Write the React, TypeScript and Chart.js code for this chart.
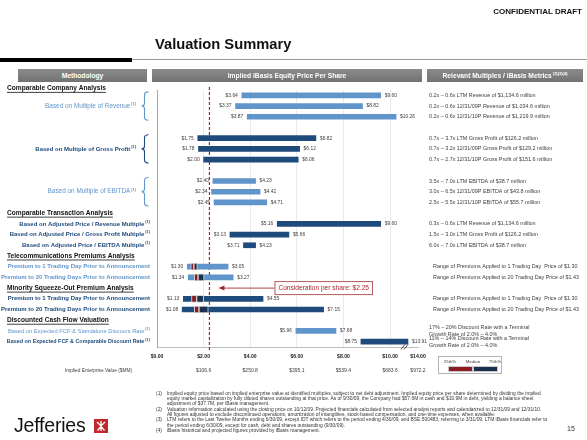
import { useEffect, useRef } from "react";
import { Chart, registerables } from "chart.js";

Chart.register(...registerables);

// ---------------- data ----------------
const rowKeys = [
  "Revenue LTM", "Revenue 12/31/09P", "Revenue 12/31/10P", "gap-a",
  "Gross Profit LTM", "Gross Profit 12/31/09P", "Gross Profit 12/31/10P", "gap-b",
  "EBITDA LTM", "EBITDA 12/31/09P", "EBITDA 12/31/10P", "Comparable Transaction Analysis",
  "Adj. Price / Revenue", "Adj. Price / Gross Profit", "Adj. Price / EBITDA", "Telecommunications Premiums Analysis",
  "Telecom 1 Day", "Telecom 20 Days", "Minority Squeeze-Out Premium Analysis",
  "Minority 1 Day", "Minority 20 Days", "Discounted Cash Flow Valuation",
  "DCF Standalone", "DCF Comparable",
];

const lowPrices: (number | null)[] = [
  3.64, 3.37, 3.87, null,
  1.75, 1.78, 2.0, null,
  2.4, 2.34, 2.45, null,
  5.16, 3.13, 3.71, null,
  1.3, 1.34, null,
  1.13, 1.08, null,
  5.96, 8.75,
];

const highPrices: (number | null)[] = [
  9.6, 8.82, 10.26, null,
  6.82, 6.12, 6.06, null,
  4.23, 4.42, 4.71, null,
  9.6, 5.66, 4.23, null,
  3.05, 3.27, null,
  4.55, 7.15, null,
  7.68, 13.91,
];

const barShades: ("light" | "dark" | null)[] = [
  "light", "light", "light", null,
  "dark", "dark", "dark", null,
  "light", "light", "light", null,
  "dark", "dark", "dark", null,
  "light", "light", null,
  "dark", "dark", null,
  "light", "dark",
];

const percentile25: (number | null)[] = [
  null, null, null, null, null, null, null, null, null, null, null, null,
  null, null, null, null, 1.45, 1.6, null, 1.48, 1.6, null, null, null,
];
const percentileMedian: (number | null)[] = [
  null, null, null, null, null, null, null, null, null, null, null, null,
  null, null, null, null, 1.58, 1.76, null, 1.7, 1.8, null, null, null,
];
const percentile75: (number | null)[] = [
  null, null, null, null, null, null, null, null, null, null, null, null,
  null, null, null, null, 1.73, 2.02, null, 2.0, 2.2, null, null, null,
];

const metricsText: (string | string[] | null)[] = [
  "0.2x – 0.6x LTM Revenue of $1,134.6 million",
  "0.2x – 0.6x 12/31/09P Revenue of $1,034.6 million",
  "0.2x – 0.6x 12/31/10P Revenue of $1,219.9 million",
  null,
  "0.7x – 3.7x LTM Gross Profit of $126.2 million",
  "0.7x – 3.2x 12/31/09P Gross Profit of $129.2 million",
  "0.7x – 2.7x 12/31/10P Gross Profit of $151.6 million",
  null,
  "3.5x – 7.0x LTM EBITDA of $38.7 million",
  "3.0x – 6.5x 12/31/09P EBITDA of $43.8 million",
  "2.5x – 5.5x 12/31/10P EBITDA of $55.7 million",
  null,
  "0.3x – 0.6x LTM Revenue of $1,134.6 million",
  "1.5x – 3.0x LTM Gross Profit of $126.2 million",
  "6.0x – 7.0x LTM EBITDA of $38.7 million",
  null,
  "Range of Premiums Applied to 1 Trading Day  Price of $1.30",
  "Range of Premiums Applied to 20 Trading Day Price of $1.43",
  null,
  "Range of Premiums Applied to 1 Trading Day  Price of $1.30",
  "Range of Premiums Applied to 20 Trading Day Price of $1.43",
  null,
  ["17% – 20% Discount Rate with a Terminal", "Growth Rate of 2.0% – 4.0%"],
  ["11% – 14% Discount Rate with a Terminal", "Growth Rate of 2.0% – 4.0%"],
];

const sectionHeaders: [number, string][] = [
  [-0.65, "Comparable Company Analysis"],
  [11, "Comparable Transaction Analysis"],
  [15, "Telecommunications Premiums Analysis"],
  [18, "Minority Squeeze-Out Premium Analysis"],
  [21, "Discounted Cash Flow Valuation"],
];

type MethodLabel = {
  slot: number;
  text: string;
  note: string;
  shade: "light" | "dark";
  bold: boolean;
  size: number;
  group?: [number, number];
};

const methodLabels: MethodLabel[] = [
  { slot: 1, text: "Based on Multiple of Revenue", note: "(1)", shade: "light", bold: false, size: 6.4, group: [0, 2] },
  { slot: 5, text: "Based on Multiple of Gross Profit", note: "(1)", shade: "dark", bold: true, size: 6.0, group: [4, 6] },
  { slot: 9, text: "Based on Multiple of EBITDA", note: "(1)", shade: "light", bold: false, size: 6.4, group: [8, 10] },
  { slot: 12, text: "Based on Adjusted Price / Revenue Multiple", note: "(1)", shade: "dark", bold: true, size: 6.0 },
  { slot: 13, text: "Based on Adjusted Price / Gross Profit Multiple", note: "(1)", shade: "dark", bold: true, size: 6.0 },
  { slot: 14, text: "Based on Adjusted Price / EBITDA Multiple", note: "(1)", shade: "dark", bold: true, size: 6.0 },
  { slot: 16, text: "Premium to 1 Trading Day Prior to Announcement", note: "", shade: "light", bold: true, size: 6.0 },
  { slot: 17, text: "Premium to 20 Trading Days Prior to Announcement", note: "", shade: "light", bold: true, size: 6.0 },
  { slot: 19, text: "Premium to 1 Trading Day Prior to Announcement", note: "", shade: "dark", bold: true, size: 6.0 },
  { slot: 20, text: "Premium to 20 Trading Days Prior to Announcement", note: "", shade: "dark", bold: true, size: 6.0 },
  { slot: 22, text: "Based on Expected FCF & Standalone Discount Rate", note: "(1)", shade: "light", bold: false, size: 5.75 },
  { slot: 23, text: "Based on Expected FCF & Comparable Discount Rate", note: "(1)", shade: "dark", bold: true, size: 5.4 },
];

const xTickValues = [0, 2, 4, 6, 8, 10, 14];
const xTickLabels = ["$0.00", "$2.00", "$4.00", "$6.00", "$8.00", "$10.00", "$14.00"];
const enterpriseValues = ["", "$106.6", "$250.8", "$395.1", "$539.4", "$683.6", "$972.2"];

const CONSIDERATION_PRICE = 2.25;

const footnotes: [string, string[]][] = [
  ["(1)", [
    "Implied equity price based on implied enterprise value at identified multiples, subject to net debt adjustment.  Implied equity price per share determined by dividing the implied",
    "equity market capitalization by fully diluted shares outstanding at that price.  As of 9/30/09, the Company had $57.6M in cash and $19.9M in debt, yielding a balance sheet",
    "adjustment of $37.7M, per iBasis management.",
  ]],
  ["(2)", [
    "Valuation information calculated using the closing price on 10/12/09.  Projected financials calculated from selected analyst reports and calendarized to 12/31/09 and 12/31/10.",
    "All figures adjusted to exclude discontinued operations, amortization of intangibles, stock-based compensation, and one-time expenses, when available.",
  ]],
  ["(3)", [
    "LTM refers to the Last Twelve Months ending 6/30/09, except IDT which refers to the period ending 4/30/09, and BSE:500483, referring to 3/31/09.  LTM iBasis financials refer to",
    "the period ending 6/30/09, except for cash, debt and shares outstanding (9/30/09).",
  ]],
  ["(4)", ["iBasis historical and projected figures provided by iBasis management."]],
];

// ---------------- styling ----------------
const FONT = '"Liberation Sans", Arial, Helvetica, sans-serif';
const LIGHT_BLUE = "#6095cc";
const DARK_BLUE = "#1f4a7c";
const Q_RED = "#8b1d22";
const Q_NAVY = "#1a304c";
const MAROON = "#a3282d";
const TEXT_GRAY = "#3c3c3c";

// broken axis: values above the break are compressed; long bars are cut with break marks
const AXIS_BREAK = 10.5;
const compress = (v: number) => (v <= AXIS_BREAK ? v : AXIS_BREAK + (v - AXIS_BREAK) * 0.2);
const BAR_CUT = 10.77;

const shadeColor = (s: string | null) => (s === "dark" ? DARK_BLUE : LIGHT_BLUE);

function drawText(
  ctx: CanvasRenderingContext2D, s: string, x: number, y: number, font: string,
  color: string, align: CanvasTextAlign = "left",
) {
  ctx.font = font;
  ctx.fillStyle = color;
  ctx.textAlign = align;
  ctx.textBaseline = "middle";
  ctx.fillText(s, x, y);
}

const decorPlugin = {
  id: "valuationDecor",
  beforeDatasetsDraw(chart: any) {
    const { ctx, chartArea, scales } = chart;
    const px = scales.x.getPixelForValue(CONSIDERATION_PRICE);
    ctx.save();
    ctx.strokeStyle = MAROON;
    ctx.lineWidth = 1.2;
    ctx.setLineDash([3, 2]);
    ctx.beginPath();
    ctx.moveTo(px, chartArea.top - 3);
    ctx.lineTo(px, chartArea.bottom + 3);
    ctx.stroke();
    ctx.restore();
  },
  afterDatasetsDraw(chart: any) {
    const { ctx, chartArea, scales } = chart;
    const x = scales.x;
    const y = scales.y;
    ctx.save();

    // value labels
    const valFont = `4.9px ${FONT}`;
    rowKeys.forEach((_, i) => {
      const lo = lowPrices[i];
      const hi = highPrices[i];
      if (lo == null || hi == null) return;
      const yy = y.getPixelForValue(i);
      const x0 = x.getPixelForValue(lo);
      const endVal = Math.min(compress(hi), BAR_CUT);
      const x1 = x.getPixelForValue(endVal);
      drawText(ctx, "$" + lo.toFixed(2), x0 - 4, yy, valFont, TEXT_GRAY, "right");
      drawText(ctx, "$" + hi.toFixed(2), x1 + 4, yy, valFont, TEXT_GRAY, "left");
      if (compress(hi) > BAR_CUT) {
        ctx.strokeStyle = "#333";
        ctx.lineWidth = 0.9;
        ctx.setLineDash([]);
        for (const dx of [-5, -2]) {
          ctx.beginPath();
          ctx.moveTo(x1 + dx - 2, chartArea.bottom + 2.5);
          ctx.lineTo(x1 + dx + 2, chartArea.bottom - 2.5);
          ctx.stroke();
        }
      }
    });

    // section headers (left)
    const hdrFont = `bold 6.6px ${FONT}`;
    sectionHeaders.forEach(([slot, text]) => {
      const yy = y.getPixelForValue(slot);
      drawText(ctx, text, 7, yy, hdrFont, "#111");
      ctx.font = hdrFont;
      const w = ctx.measureText(text).width;
      ctx.strokeStyle = "#111";
      ctx.lineWidth = 0.8;
      ctx.setLineDash([]);
      ctx.beginPath();
      ctx.moveTo(7, yy + 4);
      ctx.lineTo(7 + w, yy + 4);
      ctx.stroke();
    });

    // methodology labels
    methodLabels.forEach((m) => {
      const color = shadeColor(m.shade);
      const yy = y.getPixelForValue(m.slot);
      const font = `${m.bold ? "bold " : ""}${m.size}px ${FONT}`;
      const noteFont = `bold 3.8px ${FONT}`;
      const rightX = m.group ? 136 : 150;
      ctx.font = noteFont;
      const nw = m.note ? ctx.measureText(m.note).width + 1 : 0;
      drawText(ctx, m.text, rightX - nw, yy, font, color, "right");
      if (m.note) drawText(ctx, m.note, rightX - nw + 1, yy - 2.2, noteFont, color, "left");
      if (m.group) {
        const yt = y.getPixelForValue(m.group[0]) - 3.5;
        const yb = y.getPixelForValue(m.group[1]) + 3.5;
        const xl = 141.5;
        const xm = 144.5;
        const xr = 148.5;
        ctx.strokeStyle = color;
        ctx.lineWidth = 1.1;
        ctx.setLineDash([]);
        ctx.beginPath();
        ctx.moveTo(xr, yt);
        ctx.quadraticCurveTo(xm, yt, xm, yt + 3);
        ctx.lineTo(xm, yy - 3);
        ctx.quadraticCurveTo(xm, yy, xl, yy);
        ctx.quadraticCurveTo(xm, yy, xm, yy + 3);
        ctx.lineTo(xm, yb - 3);
        ctx.quadraticCurveTo(xm, yb, xr, yb);
        ctx.stroke();
      }
    });

    // metrics text (right)
    const mFont = `5.4px ${FONT}`;
    metricsText.forEach((t, i) => {
      if (t == null) return;
      const yy = y.getPixelForValue(i);
      if (Array.isArray(t)) {
        drawText(ctx, t[0], 429, yy - 3.0, mFont, TEXT_GRAY);
        drawText(ctx, t[1], 429, yy + 3.8, mFont, TEXT_GRAY);
      } else {
        const xs = t.startsWith("Range") ? 433 : 429;
        drawText(ctx, t, xs, yy, mFont, TEXT_GRAY);
      }
    });

    // x tick labels and enterprise values
    xTickValues.forEach((v, k) => {
      const px = x.getPixelForValue(compress(v));
      drawText(ctx, xTickLabels[k], px, chartArea.bottom + 10, `bold 5.1px ${FONT}`, "#1a1a1a", "center");
      if (enterpriseValues[k]) {
        drawText(ctx, enterpriseValues[k], px, chartArea.bottom + 24, `5px ${FONT}`, TEXT_GRAY, "center");
      }
    });
    drawText(ctx, "Implied Enterprise Value ($MM)", 98.5, chartArea.bottom + 24, `4.8px ${FONT}`, TEXT_GRAY, "center");

    // consideration callout
    const cx = x.getPixelForValue(CONSIDERATION_PRICE);
    const cy = y.getPixelForValue(18);
    const label = `Consideration per share: $${CONSIDERATION_PRICE.toFixed(2)}`;
    const cFont = `6.6px ${FONT}`;
    ctx.font = cFont;
    const tw = ctx.measureText(label).width;
    const bx = cx + 65;
    const bw = tw + 7;
    ctx.fillStyle = "#fff";
    ctx.fillRect(bx, cy - 7, bw, 14);
    ctx.strokeStyle = "#b4585b";
    ctx.lineWidth = 1;
    ctx.strokeRect(bx + 0.5, cy - 6.5, bw, 13);
    drawText(ctx, label, bx + bw / 2 + 0.5, cy + 0.5, cFont, MAROON, "center");
    ctx.strokeStyle = MAROON;
    ctx.lineWidth = 0.9;
    ctx.beginPath();
    ctx.moveTo(bx, cy);
    ctx.lineTo(cx + 14, cy);
    ctx.stroke();
    ctx.fillStyle = MAROON;
    ctx.beginPath();
    ctx.moveTo(cx + 9, cy);
    ctx.lineTo(cx + 15, cy - 2.5);
    ctx.lineTo(cx + 15, cy + 2.5);
    ctx.closePath();
    ctx.fill();

    // quartile legend
    const lx = chartArea.right + 20;
    const ly = chartArea.bottom + 9;
    ctx.strokeStyle = "#b5b5b5";
    ctx.lineWidth = 1;
    ctx.strokeRect(lx + 0.5, ly + 0.5, 63, 17);
    const lgFont = `4.4px ${FONT}`;
    drawText(ctx, "25th%", lx + 12, ly + 5.5, lgFont, TEXT_GRAY, "center");
    drawText(ctx, "Median", lx + 35, ly + 5.5, lgFont, TEXT_GRAY, "center");
    drawText(ctx, "75th%", lx + 57, ly + 5.5, lgFont, TEXT_GRAY, "center");
    ctx.fillStyle = "#c9c9c9";
    ctx.fillRect(lx + 10, ly + 10, 50, 6);
    ctx.fillStyle = Q_RED;
    ctx.fillRect(lx + 11, ly + 11, 23, 4);
    ctx.fillStyle = Q_NAVY;
    ctx.fillRect(lx + 36, ly + 11, 23, 4);

    ctx.restore();
  },
};

function buildRange(lo: (number | null)[], hi: (number | null)[], squeeze: boolean) {
  return rowKeys.map((_, i) => {
    const a = lo[i];
    const b = hi[i];
    if (a == null || b == null) return null;
    return squeeze ? [a, Math.min(compress(b), BAR_CUT)] : [a, b];
  });
}

export default function App() {
  const canvasRef = useRef<HTMLCanvasElement>(null);

  useEffect(() => {
    document.body.style.margin = "0";
    const canvas = canvasRef.current;
    if (!canvas) return;
    const chart = new Chart(canvas, {
      type: "bar",
      data: {
        labels: rowKeys,
        datasets: [
          {
            label: "25th percentile – Median",
            data: buildRange(percentile25, percentileMedian, false) as any,
            backgroundColor: Q_RED,
            borderColor: "#d8d8d8",
            borderWidth: 1,
            borderSkipped: false,
            barThickness: 7,
            grouped: false,
            order: 1,
          } as any,
          {
            label: "Median – 75th percentile",
            data: buildRange(percentileMedian, percentile75, false) as any,
            backgroundColor: Q_NAVY,
            borderColor: "#d8d8d8",
            borderWidth: 1,
            borderSkipped: false,
            barThickness: 7,
            grouped: false,
            order: 1,
          } as any,
          {
            label: "Implied price range",
            data: buildRange(lowPrices, highPrices, true) as any,
            backgroundColor: barShades.map((s) => shadeColor(s)),
            borderWidth: 0,
            barThickness: 5,
            grouped: false,
            order: 2,
          } as any,
        ],
      },
      options: {
        indexAxis: "y",
        animation: false,
        responsive: false,
        maintainAspectRatio: false,
        layout: { padding: { left: 157, right: 169, top: 90, bottom: 93 } },
        plugins: {
          legend: { display: false },
          tooltip: { enabled: false },
        },
        scales: {
          x: {
            type: "linear",
            min: 0,
            max: compress(14),
            afterBuildTicks: (scale: any) => {
              scale.ticks = xTickValues.map((v) => ({ value: compress(v) }));
            },
            ticks: { display: false },
            grid: {
              drawTicks: false,
              lineWidth: 0.8,
              color: (c: any) => {
                const v = c.tick ? c.tick.value : 0;
                return v > 0 && v <= 10 ? "#e4e4e4" : "rgba(0,0,0,0)";
              },
            },
            border: { display: true, color: "#bdbdbd", width: 1 },
          },
          y: {
            type: "category",
            ticks: { display: false },
            grid: { display: false, drawTicks: false },
            border: { display: true, color: "#a8a8a8", width: 1 },
          },
        },
      } as any,
      plugins: [decorPlugin],
    });
    return () => chart.destroy();
  }, []);

  const hdr: React.CSSProperties = {
    position: "absolute",
    top: 69,
    height: 13,
    background: "linear-gradient(#8b8b8b, #727272)",
    color: "#fff",
    font: `bold 6.7px ${FONT}`,
    display: "flex",
    alignItems: "center",
    justifyContent: "center",
    whiteSpace: "nowrap",
  };

  return (
    <div style={{ position: "relative", width: 587, height: 440, background: "#fff", overflow: "hidden", fontFamily: FONT }}>
      <canvas ref={canvasRef} width={587} height={440} style={{ position: "absolute", left: 0, top: 0, width: 587, height: 440 }} />
      <div style={{ position: "absolute", right: 5, top: 6.5, font: `bold 8px ${FONT}`, lineHeight: "9px", color: "#111" }}>CONFIDENTIAL DRAFT</div>
      <div style={{ position: "absolute", left: 155, top: 35.5, font: `bold 14.7px ${FONT}`, lineHeight: "17px", color: "#111" }}>Valuation Summary</div>
      <div style={{ position: "absolute", left: 0, top: 58, width: 132, height: 3.5, background: "#000" }} />
      <div style={{ position: "absolute", left: 132, top: 59.3, width: 455, height: 1.2, background: "#9a9a9a" }} />
      <div style={{ ...hdr, left: 18, width: 129 }}>Methodology</div>
      <div style={{ ...hdr, left: 152, width: 270 }}>Implied iBasis Equity Price Per Share</div>
      <div style={{ ...hdr, left: 427, width: 156 }}>
        Relevant Multiples / iBasis Metrics
        <span style={{ fontSize: 4, position: "relative", top: -2, marginLeft: 1 }}>(2)(3)(4)</span>
      </div>
      <div style={{ position: "absolute", left: 156, top: 390.8, font: `4.9px ${FONT}`, lineHeight: "5.3px", color: "#333" }}>
        {footnotes.map(([num, lines]) => (
          <div key={num} style={{ display: "flex" }}>
            <div style={{ width: 11, flex: "none" }}>{num}</div>
            <div>
              {lines.map((l, i) => (
                <div key={i} style={{ whiteSpace: "nowrap" }}>{l}</div>
              ))}
            </div>
          </div>
        ))}
      </div>
      <div style={{ position: "absolute", left: 14, top: 415.3, font: `19.5px ${FONT}`, lineHeight: "20px", color: "#111", letterSpacing: -0.2 }}>Jefferies</div>
      <svg style={{ position: "absolute", left: 94, top: 418.5 }} width={14} height={14} viewBox="0 0 14 14">
        <rect x={0} y={0} width={14} height={14} fill="#c1272d" />
        <path d="M3 3 L6.5 6.5 M11 3 L7.5 6.5 M3.5 11.5 L6.5 8 M10.5 11.5 L7.5 8 M7 2 L7 12" stroke="#fff" strokeWidth={1.3} />
      </svg>
      <div style={{ position: "absolute", left: 567, top: 425, font: `7px ${FONT}`, color: "#333" }}>15</div>
    </div>
  );
}
